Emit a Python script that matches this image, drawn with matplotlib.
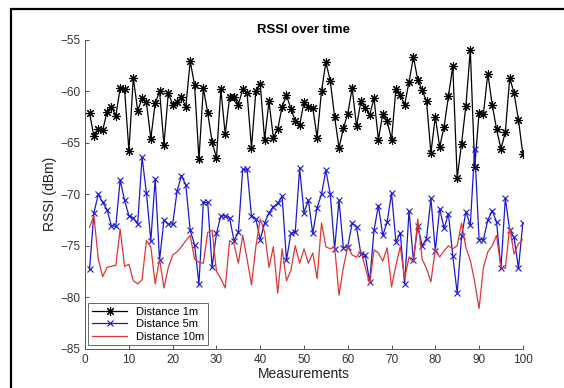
import matplotlib; matplotlib.use('Agg')
import matplotlib.pyplot as plt
from matplotlib.lines import Line2D
import numpy as np

plt.rcParams['font.family'] = ['Liberation Sans', 'DejaVu Sans']

# ---------- data ----------
measurements = np.arange(1, 101)

rssi_1m = [-62.1, -64.4, -63.7, -63.8, -62.0, -61.5, -62.4, -59.7, -59.8, -65.8,
           -58.7, -61.9, -60.7, -61.1, -64.6, -61.2, -60.0, -65.2, -60.2, -61.3,
           -61.1, -60.6, -61.5, -57.1, -59.4, -66.6, -59.7, -62.1, -64.9, -66.5,
           -59.8, -64.2, -60.6, -60.6, -61.3, -59.8, -60.2, -65.5, -60.0, -59.3,
           -64.7, -61.0, -64.5, -63.7, -61.5, -60.4, -61.7, -62.9, -63.3, -61.1,
           -61.5, -61.6, -64.5, -60.0, -57.2, -59.0, -62.5, -65.5, -63.6, -62.2,
           -59.7, -63.4, -61.0, -61.6, -62.3, -60.7, -64.7, -62.2, -62.9, -64.7,
           -59.8, -60.4, -61.3, -59.1, -56.7, -58.9, -59.9, -61.0, -66.0, -62.5,
           -65.4, -63.5, -60.5, -57.6, -68.4, -65.1, -61.4, -56.0, -67.4, -62.1,
           -62.2, -58.3, -61.3, -63.7, -65.6, -64.0, -58.7, -60.2, -62.8, -66.1]

rssi_5m = [-77.3, -71.8, -70.0, -70.8, -71.5, -73.1, -73.1, -68.6, -70.6, -72.1,
           -72.3, -72.9, -66.4, -69.9, -74.5, -68.5, -76.4, -72.5, -72.9, -72.9,
           -69.7, -68.2, -69.1, -73.5, -74.9, -78.7, -70.8, -70.8, -77.1, -73.8,
           -72.1, -72.1, -72.3, -74.5, -73.7, -67.6, -67.6, -72.1, -72.4, -74.4,
           -72.8, -71.8, -71.2, -70.9, -70.2, -76.4, -73.8, -73.7, -67.5, -71.8,
           -70.6, -73.8, -71.3, -70.0, -67.7, -70.0, -75.3, -70.6, -75.2, -75.1,
           -72.8, -73.2, -75.8, -75.9, -78.5, -73.5, -71.1, -74.0, -72.7, -69.9,
           -74.6, -73.8, -78.7, -71.6, -76.4, -73.1, -75.0, -74.3, -70.4, -75.5,
           -71.4, -73.3, -71.9, -76.0, -79.6, -74.1, -71.7, -73.0, -65.6, -74.4,
           -74.4, -72.5, -71.6, -72.7, -77.2, -70.4, -73.5, -74.2, -77.2, -72.8]

rssi_10m = [-73.2, -72.1, -76.3, -78.0, -77.1, -77.0, -76.9, -73.4, -77.0, -76.8,
            -78.4, -78.7, -78.3, -74.5, -75.1, -78.7, -76.3, -79.1, -77.1, -75.9,
            -75.6, -75.1, -74.5, -74.0, -76.3, -76.6, -76.7, -73.7, -73.5, -77.5,
            -78.2, -79.1, -74.5, -74.8, -76.7, -74.0, -76.3, -78.8, -75.1, -72.4,
            -73.7, -77.1, -75.1, -79.6, -75.3, -78.4, -77.4, -75.0, -76.7, -75.3,
            -76.7, -75.7, -78.2, -72.8, -75.1, -75.3, -75.1, -79.8, -77.1, -75.1,
            -75.9, -76.1, -75.5, -77.1, -78.7, -75.4, -75.7, -76.5, -75.2, -79.0,
            -76.9, -75.1, -78.2, -76.1, -76.6, -72.4, -76.3, -77.2, -78.5, -75.3,
            -76.1, -75.5, -75.0, -75.3, -75.0, -72.8, -75.2, -76.4, -78.5, -81.1,
            -77.1, -75.6, -75.0, -74.0, -77.1, -77.2, -73.2, -75.8, -74.8, -74.4]

# ---------- figure ----------
fig = plt.figure(figsize=(5.64, 3.88), dpi=100, facecolor='white')
ax = fig.add_axes([0.151, 0.101, 0.776, 0.797])

asterisk = (8, 2, 0)   # MATLAB-style '*' (8 spokes)
ax.plot(measurements, rssi_1m, color='black', marker=asterisk, ms=6.5, lw=0.9,
        mew=0.8, label='Distance 1m')
ax.plot(measurements, rssi_5m, color='#1a1ad0', marker='x', ms=4.5, lw=0.9,
        mew=0.8, label='Distance 5m')
ax.plot(measurements, rssi_10m, color='#e03535', lw=0.9, label='Distance 10m')

ax.set_xlim(0, 100); ax.set_ylim(-85, -55)
ax.set_xticks(np.arange(0, 101, 10)); ax.set_yticks(np.arange(-85, -54, 5))
ax.tick_params(direction='in', length=3, labelsize=8.5, colors='#333333', width=0.6)
for s in ('top', 'right'):
    ax.spines[s].set_visible(False)
for s in ('left', 'bottom'):
    ax.spines[s].set_color('#555555'); ax.spines[s].set_linewidth(0.7)

ax.set_title('RSSI over time', fontsize=9.5, fontweight='bold', pad=5)
ax.set_xlabel('Measurements', fontsize=10, color='#222222', labelpad=1)
ax.set_ylabel('RSSI (dBm)', fontsize=10, color='#222222', labelpad=2)

leg = ax.legend(loc='lower left', fontsize=8, frameon=True, fancybox=False,
                borderpad=0.3, handlelength=3.2, labelspacing=0.25,
                borderaxespad=0.3)
leg.get_frame().set_edgecolor('#444444'); leg.get_frame().set_linewidth(0.7)

# thin black frame line along top and left edge of the screenshot
fx, fy = 11 / 564, 1 - 9 / 388
fig.add_artist(Line2D([fx, fx, 1], [0, fy, fy], transform=fig.transFigure,
                      color='black', lw=1.6, solid_joinstyle='miter'))

plt.savefig('out.png', dpi=100, facecolor='white')
